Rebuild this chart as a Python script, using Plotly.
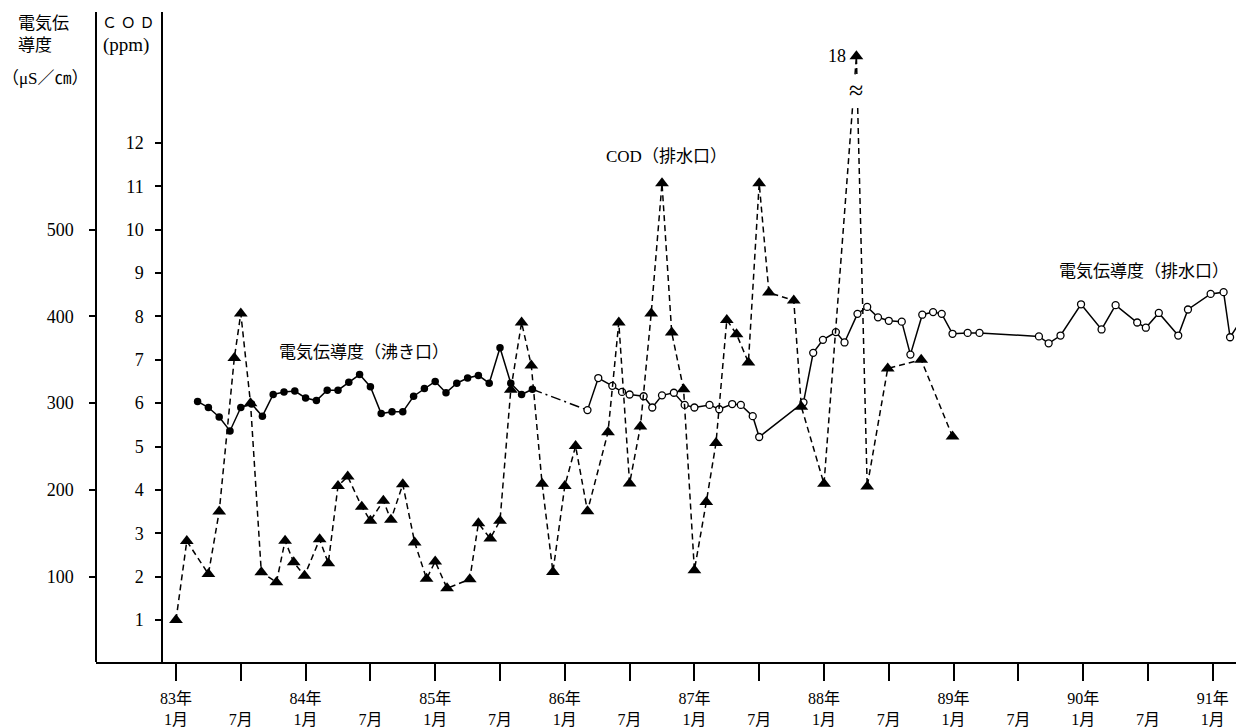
import plotly.graph_objects as go

# ---- data (x = months counted from January 1983) ----
cod_month = [0, 1, 3, 4, 5.4, 6, 6.9, 7.9, 9.3, 10.1, 10.9, 11.9, 13.3, 14.1, 15, 15.9,
             17.2, 18, 19.2, 19.9, 21, 22.1, 23.2, 24, 25.1, 27.2, 28, 29.1, 30, 31, 32,
             32.9, 33.9, 34.9, 36, 37, 38.1, 40, 41, 42, 43, 44, 45, 45.9, 47, 48, 49.1,
             50, 51, 51.9, 53, 54, 54.9, 57.2, 57.9, 60, 63, 64, 65.9, 69, 71.9]
cod_ppm = [1.0, 2.82, 2.06, 3.50, 7.04, 8.07, 6.0, 2.1, 1.87, 2.83, 2.33, 2.02, 2.86, 2.31,
           4.09, 4.31, 3.61, 3.29, 3.75, 3.31, 4.13, 2.79, 1.95, 2.35, 1.73, 1.94, 3.23,
           2.88, 3.29, 6.31, 7.86, 6.87, 4.14, 2.11, 4.09, 5.01, 3.51, 5.33, 7.86, 4.15,
           5.46, 8.07, 11.07, 7.63, 6.32, 2.15, 3.72, 5.08, 7.92, 7.59, 6.94, 11.07, 8.55,
           8.37, 5.92, 4.14, 18, 4.08, 6.8, 7.0, 5.23]

boil_month = list(range(2, 34))
boil_ec = [302, 295, 284, 268, 295, 299, 285, 310, 313, 314, 306, 303, 315, 315, 324, 333,
           319, 288, 290, 290, 308, 317, 325, 312, 323, 329, 332, 323, 364, 323, 310, 316]

drain_month = [38.1, 39.1, 40.4, 41.3, 42.0, 43.3, 44.1, 45.0, 46.1, 47.1, 48.0, 49.4, 50.3,
               51.5, 52.3, 53.4, 54.0, 58.1, 59.0, 59.9, 61.1, 61.9, 63.1, 64.0, 65.0, 66.0,
               67.2, 68.0, 69.1, 70.1, 70.9, 71.9, 73.3, 74.4, 79.9, 80.8, 81.9, 83.8, 85.7,
               87.0, 89.0, 89.8, 91.0, 92.8, 93.7, 95.8, 97.0, 97.6, 98.6]
drain_ec = [292, 329, 320, 313, 310, 308, 295, 309, 312, 298, 295, 298, 293, 299, 298, 285,
            261, 301, 358, 373, 382, 370, 403, 411, 399, 395, 394, 356, 402, 405, 403, 380,
            381, 381, 377, 369, 378, 414, 385, 413, 393, 387, 404, 378, 408, 426, 428, 376, 395]

tick_month = list(range(0, 97, 6))
tick_text = [f"{83 + m // 12}年<br>1月" if m % 12 == 0 else "<br>7月" for m in tick_month]

ec_ticks = [100, 200, 300, 400, 500]
cod_ticks = list(range(1, 13))

# ---- style ----
FONT = "Liberation Serif, Noto Sans CJK JP, serif"
BREAK_DISPLAY = 14.0      # where the off-scale COD value is drawn
COD_RANGE = [0.032, 15.02]
EC_RANGE = [v * 50 for v in COD_RANGE]
W, H = 1236, 728
ML, MR, MT, MB = 96, 0, 12, 66
COD_AXIS_POS = (162 - ML) / (W - ML - MR)

cod_plot = [v if v < 13 else BREAK_DISPLAY for v in cod_ppm]

fig = go.Figure()

fig.add_trace(go.Scatter(
    x=boil_month, y=boil_ec, mode="lines+markers", yaxis="y",
    line=dict(color="black", width=1.5),
    marker=dict(symbol="circle", size=7.5, color="black"),
    showlegend=False))

fig.add_trace(go.Scatter(
    x=[boil_month[-1], drain_month[0]], y=[boil_ec[-1], drain_ec[0]], mode="lines",
    yaxis="y", line=dict(color="black", width=1.5, dash="10px,4px,2px,4px"),
    showlegend=False))

fig.add_trace(go.Scatter(
    x=drain_month, y=drain_ec, mode="lines+markers", yaxis="y",
    line=dict(color="black", width=1.5),
    marker=dict(symbol="circle", size=7, color="white", line=dict(color="black", width=1.3)),
    showlegend=False))

fig.add_trace(go.Scatter(
    x=cod_month, y=cod_plot, mode="lines+markers", yaxis="y2",
    line=dict(color="black", width=1.5, dash="6px,4px"),
    marker=dict(symbol="triangle-up", size=12, color="black"),
    showlegend=False))

axis_common = dict(showgrid=False, zeroline=False, linecolor="black", linewidth=1.5,
                   tickcolor="black", tickwidth=1.5)
yfont = dict(family=FONT, size=18, color="black")

fig.update_layout(
    width=W, height=H, margin=dict(l=ML, r=MR, t=MT, b=MB),
    paper_bgcolor="white", plot_bgcolor="white",
    xaxis=dict(range=[-7.407, 98.148], tickvals=tick_month, ticktext=tick_text,
               ticks="outside", ticklen=17, showline=True, anchor="y",
               tickfont=dict(family=FONT, size=16, color="black"),
               ticklabelstandoff=4, **axis_common),
    yaxis=dict(range=EC_RANGE, tickvals=ec_ticks, ticks="outside", ticklen=6,
               showline=True, anchor="free", position=0, side="left",
               tickfont=yfont, ticklabelstandoff=12, **axis_common),
    yaxis2=dict(range=COD_RANGE, tickvals=cod_ticks, ticks="outside", ticklen=6,
                showline=True, anchor="free", position=COD_AXIS_POS, side="left",
                overlaying="y", tickfont=yfont, ticklabelstandoff=8, **axis_common),
    yaxis3=dict(range=EC_RANGE, tickvals=ec_ticks, ticks="inside", ticklen=6,
                showline=False, showticklabels=False, anchor="free", position=0,
                overlaying="y", **axis_common),
    yaxis4=dict(range=COD_RANGE, tickvals=cod_ticks, ticks="inside", ticklen=6,
                showline=False, showticklabels=False, anchor="free", position=COD_AXIS_POS,
                overlaying="y", **axis_common),
)

def px_x(p):
    return (p - ML) / (W - ML - MR)

def px_y(p):
    return (H - MB - p) / (H - MB - MT)

ann = [
    dict(x=17.4, y=358, xref="x", yref="y", text="電気伝導度（沸き口）"),
    dict(x=45.4, y=11.68, xref="x", yref="y2", text="COD（排水口）"),
    dict(x=89.6, y=452, xref="x", yref="y", text="電気伝導度（排水口）"),
]
annotations = []
for a in ann:
    annotations.append(dict(**a, showarrow=False, font=dict(family=FONT, size=17, color="black")))

i18 = cod_plot.index(BREAK_DISPLAY)
annotations.append(dict(x=cod_month[i18], y=BREAK_DISPLAY, xref="x", yref="y2",
                        text=f"{cod_ppm[i18]:g}", showarrow=False, xanchor="right", xshift=-8,
                        font=dict(family=FONT, size=18, color="black")))
annotations.append(dict(x=cod_month[i18], y=13.2, xref="x", yref="y2", text="≈",
                        showarrow=False, bgcolor="white", borderpad=0,
                        font=dict(family=FONT, size=26, color="black")))

for txt, cx, cy, size in [("電気伝", 16, 23, 17), ("導度", 16, 45, 17),
                          ("（μS／㎝）", 0, 78, 17), ("Ｃ Ｏ Ｄ", 100, 23, 15),
                          ("(ppm)", 101, 45, 19)]:
    annotations.append(dict(x=px_x(cx), y=px_y(cy), xref="paper", yref="paper", text=txt,
                            showarrow=False, xanchor="left", yanchor="middle",
                            font=dict(family=FONT, size=size, color="black")))

fig.update_layout(annotations=annotations)
fig.write_html("out.html", config={"displayModeBar": False},
               post_script="document.body.style.margin='0';")
